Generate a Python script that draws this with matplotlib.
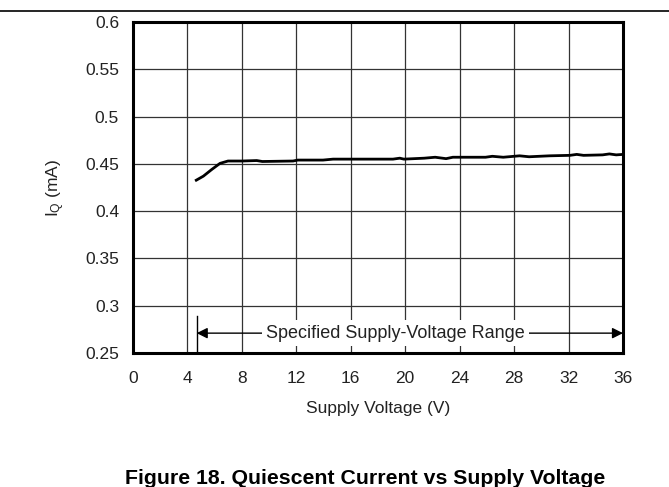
import numpy as np
import matplotlib
matplotlib.use("Agg")
import matplotlib.pyplot as plt

plt.rcParams['font.family'] = ['Liberation Sans', 'DejaVu Sans']
plt.rcParams['mathtext.fontset'] = 'custom'
plt.rcParams['mathtext.rm'] = 'Liberation Sans'
plt.rcParams['mathtext.it'] = 'Liberation Sans:italic'

# Quiescent current vs supply voltage
vs = [4.56, 5.17, 5.78, 6.39, 6.98, 8.0, 9.09, 9.5, 11.76, 12.1, 13.96, 14.7,
      19.1, 19.6, 19.9, 21.4, 22.2, 23.0, 23.5, 25.9, 26.4, 27.2, 28.4, 29.1,
      30.6, 32.1, 32.6, 33.1, 34.5, 35.0, 35.5, 36.0]
iq = [0.432, 0.437, 0.444, 0.4505, 0.453, 0.453, 0.4535, 0.4525, 0.453, 0.454,
      0.454, 0.455, 0.455, 0.456, 0.455, 0.456, 0.457, 0.4555, 0.457, 0.457,
      0.458, 0.457, 0.4585, 0.4575, 0.4585, 0.459, 0.460, 0.459, 0.4595, 0.4605,
      0.4595, 0.460]

x_ticks = list(range(0, 37, 4))
y_ticks = [0.25, 0.3, 0.35, 0.4, 0.45, 0.5, 0.55, 0.6]
y_labels = ['0.25', '0.3', '0.35', '0.4', '0.45', '0.5', '0.55', '0.6']

range_start = 4.68
range_end = 36.0

fs = 12.5
fig = plt.figure(figsize=(6.69, 4.87), dpi=100)
ax = fig.add_axes([133 / 669, 1 - 353 / 487, 490 / 669, 331 / 487])

ax.plot(vs, iq, color='black', lw=2.0, solid_capstyle='butt', zorder=3)

ax.set_xlim(0, 36)
ax.set_ylim(0.25, 0.6)
ax.set_xticks(x_ticks)
ax.set_yticks(y_ticks)
ax.set_yticklabels(y_labels)
ax.tick_params(length=0, labelsize=fs, colors='#222222')
ax.tick_params(axis='x', pad=13)
ax.tick_params(axis='y', pad=10)
ax.grid(True, color='#333333', lw=0.9)
for s in ax.spines.values():
    s.set_linewidth(2.2)
    s.set_color('black')

# specified range marker and arrow
ax.plot([range_start, range_start], [0.25, 0.289], color='black', lw=1.0, zorder=3)
ax.annotate('', xy=(range_end, 0.271), xytext=(range_start, 0.271),
            arrowprops=dict(arrowstyle='<|-|>', color='black', lw=1.0,
                            mutation_scale=16, shrinkA=0, shrinkB=0), zorder=4)
ax.text(19.3, 0.271, 'Specified Supply-Voltage Range', ha='center', va='center',
        fontsize=fs + 0.5, color='#222222', zorder=5,
        bbox=dict(facecolor='white', edgecolor='none', pad=3))

ax.set_xlabel('Supply Voltage (V)', fontsize=fs, color='#222222', labelpad=11)
ax.set_ylabel(r'I$_{\rm Q}$ (mA)', fontsize=fs, color='#222222', labelpad=13)

# page rule at top and caption below
fig.add_artist(plt.Line2D([0, 1], [1 - 11 / 487, 1 - 11 / 487], color='black', lw=1.2))
fig.text(365 / 669, 1 - 479 / 487, 'Figure 18. Quiescent Current vs Supply Voltage',
         ha='center', va='center', fontsize=15.3, fontweight='bold', color='black')

fig.savefig('out.png', dpi=100)
